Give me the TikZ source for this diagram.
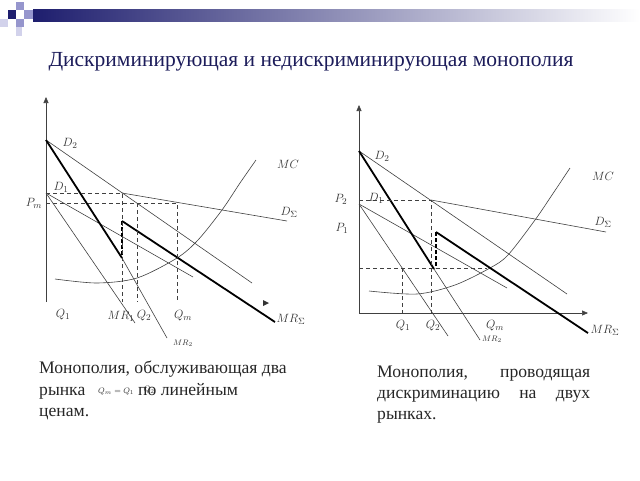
\documentclass[tikz,border=0pt]{standalone}
\usepackage{fontspec}
\setmainfont{Liberation Serif}
\usetikzlibrary{arrows.meta}
\definecolor{navy}{RGB}{30,30,110}
\definecolor{lav}{RGB}{150,150,205}
\definecolor{pale}{RGB}{210,210,235}
\definecolor{titlec}{RGB}{28,28,90}
\tikzset{
  thinl/.style={black!75, line width=0.6pt},
  thickl/.style={black, line width=1.8pt},
  guide/.style={black!75, line width=0.6pt, dash pattern=on 4pt off 3pt},
  kinkl/.style={black, line width=1.6pt, dash pattern=on 4pt off 2pt},
  axisarr/.style={-{Triangle[length=6pt,width=5pt]}},
  lbl/.style={font=\fontsize{13}{13}\selectfont, inner sep=0pt, text=black!80},
  tinylbl/.style={font=\fontsize{8}{8}\selectfont, inner sep=0pt, text=black!80},
  txt/.style={font=\fontsize{17.6}{17.6}\selectfont, inner sep=0pt, anchor=base west, text=black!85},
}

\begin{document}
\begin{tikzpicture}[x=1pt,y=-1pt]
\useasboundingbox (0,0) rectangle (640,480);
% header
\shade[left color=navy, right color=white] (33,9) rectangle (640,21);
\fill[navy] (8,10) rectangle (16,19);
\fill[lav] (16,2) rectangle (24,10);
\fill[lav] (24,10) rectangle (33,19);
\fill[pale] (0,19) rectangle (8,27);
\fill[lav] (16,19) rectangle (24,27);
\fill[pale] (16,27) rectangle (22,36);
\node[font=\fontsize{21.5}{21.5}\selectfont, text=titlec, inner sep=0pt, anchor=base] (title) at (311,66)
  {Дискриминирующая и недискриминирующая монополия};

%%% left panel: single price
\coordinate (La) at (46,140);
\coordinate (Lb) at (46,193);
\coordinate (Lk) at (122,193);
\coordinate (Lm) at (177,203);
\draw[thinl, axisarr] (46,302) -- (46,97);
\fill[black!80] (263,300) -- (269,303) -- (263,306) -- cycle;
% demand curves
\draw[thinl] (La) -- (252,283);
\draw[thinl] (Lb) -- (193,277);
\draw[thinl] (Lk) -- (287,221);
% MC
\draw[thinl] plot[smooth] coordinates {(55,279) (97,283) (137,278) (177,258) (198,240) (222,210) (240,183) (256,160)};
% marginal revenue
\draw[thinl] (Lb) -- (135,323);
\draw[thinl] (122,258) -- (167,338);
\draw[thickl] (La) -- (122,258);
\draw[thickl] (122,221) -- (275,322);
\draw[kinkl] (122,221) -- (122,258);
% guides
\draw[guide] (Lb) -- (Lk) -- (122,302);
\draw[guide] (46,203) -- (Lm) -- (177,302);
\draw[guide] (137,203) -- (137,302);
% labels
\node[lbl] (lD2) at (70,143) {$D_2$};
\node[lbl] (lD1) at (61,187) {$D_1$};
\node[lbl] (lPm) at (34,203) {$P_m$};
\node[lbl] (lMC) at (288,164) {$MC$};
\node[lbl] (lDS) at (289,212) {$D_\Sigma$};
\node[lbl] (lQ1) at (63,315) {$Q_1$};
\node[lbl] (lMR1) at (121,316) {$MR_1$};
\node[lbl] (lQ2) at (144,316) {$Q_2$};
\node[lbl] (lQm) at (183,316) {$Q_m$};
\node[lbl] (lMRS) at (291,319) {$MR_\Sigma$};
\node[tinylbl] (lMR2) at (183,343) {$MR_2$};

%%% right panel: price discrimination
\coordinate (Ra) at (359,151);
\coordinate (Rb) at (359,204);
\coordinate (Rk) at (431,200);
\coordinate (Rq) at (434,269);
\draw[thinl, axisarr] (359,313) -- (359,105);
\draw[thinl, axisarr] (359,313) -- (588,313);
% demand curves
\draw[thinl] (Ra) -- (567,294);
\draw[thinl] (Rb) -- (507,288);
\draw[thinl] (Rk) -- (606,232);
% MC
\draw[thinl] plot[smooth] coordinates {(369,291) (417,294) (455,285) (490,268) (508,255) (535,220) (552,195) (570,168)};
% marginal revenue
\draw[thinl] (Rb) -- (448,336);
\draw[thinl] (Rq) -- (480,340);
\draw[thickl] (Ra) -- (Rq);
\draw[thickl] (436,232) -- (588,333);
\draw[kinkl] (436,232) -- (436,268);
% guides
\draw[guide] (359,200) -- (Rk) -- (431,313);
\draw[guide] (359,268) -- (487,268);
\draw[guide] (402,268) -- (402,313);
% labels
\node[lbl] (rD2) at (382,156) {$D_2$};
\node[lbl] (rD1) at (376,198) {$D_1$};
\node[lbl] (rP2) at (341,199) {$P_2$};
\node[lbl] (rP1) at (342,228) {$P_1$};
\node[lbl] (rMC) at (603,176) {$MC$};
\node[lbl] (rDS) at (603,222) {$D_\Sigma$};
\node[lbl] (rQ1) at (403,326) {$Q_1$};
\node[lbl] (rQ2) at (433,326) {$Q_2$};
\node[lbl] (rQm) at (495,326) {$Q_m$};
\node[lbl] (rMRS) at (605,330) {$MR_\Sigma$};
\node[tinylbl] (rMR2) at (492,339) {$MR_2$};

%%% captions
\node[txt] (capL1) at (39,373) {Монополия, обслуживающая два};
\node[txt] (capL2) at (39,395) {рынка};
\node[tinylbl, anchor=base west] (capEq) at (98,393) {$Q_m = Q_1$};
\node[txt] (capL3) at (138,395) {по линейным};
\node[tinylbl] (capQ2) at (149,390) {$Q_2$};
\node[txt] (capL4) at (39,416) {ценам.};
\node[txt] (capR1) at (377,377) {\hbox to 213pt{Монополия,\hfill проводящая}};
\node[txt] (capR2) at (377,398) {\hbox to 213pt{дискриминацию\hfill на\hfill двух}};
\node[txt] (capR3) at (377,419) {рынках.};
\end{tikzpicture}
\end{document}
